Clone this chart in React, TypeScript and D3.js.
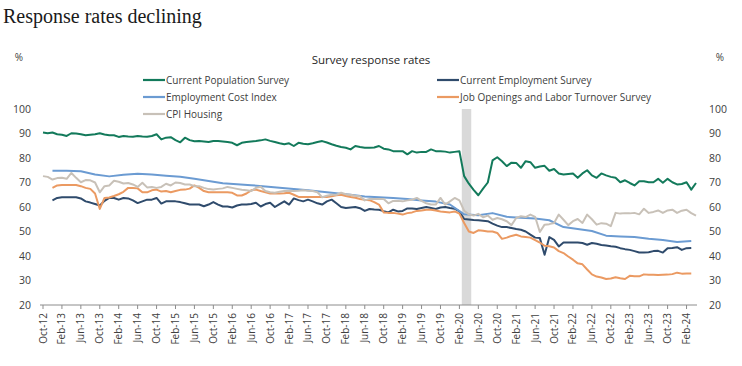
import React from "react";
import * as d3 from "d3";

const W = 742;
const H = 366;

// monthly categories, Oct-12 .. Apr-24
const fmtMonth = d3.timeFormat("%b-%y");
const months = d3
  .timeMonth.range(new Date(2012, 9, 1), new Date(2024, 4, 1))
  .map(fmtMonth);

const tickLabels = [
  "Oct-12", "Feb-13", "Jun-13", "Oct-13", "Feb-14", "Jun-14", "Oct-14", "Feb-15", "Jun-15",
  "Oct-15", "Feb-16", "Jun-16", "Oct-16", "Feb-17", "Jun-17", "Oct-17", "Feb-18", "Jun-18",
  "Oct-18", "Feb-19", "Jun-19", "Oct-19", "Feb-20", "Jun-20", "Oct-20", "Feb-21", "Jun-21",
  "Oct-21", "Feb-22", "Jun-22", "Oct-22", "Feb-23", "Jun-23", "Oct-23", "Feb-24",
];
const yTicks = [20, 30, 40, 50, 60, 70, 80, 90, 100];
const recession = ["Mar-20", "Apr-20"];

// Current Population Survey, monthly from Oct-12
const cps = [
  90.4, 90.1, 90.4, 89.7, 89.5, 89.0, 90.1, 90.0, 89.7, 89.3, 89.5, 89.7,
  90.1, 89.6, 89.3, 89.3, 88.6, 89.0, 88.8, 88.7, 89.0, 88.8, 88.7, 89.0,
  89.7, 87.6, 88.3, 88.5, 87.3, 86.4, 88.3, 87.3, 86.8, 86.9, 86.7, 86.5,
  86.9, 86.9, 86.7, 86.5, 86.2, 85.2, 86.2, 86.5, 86.7, 86.9, 87.2, 87.6,
  87.0, 86.5, 86.0, 85.6, 86.0, 84.9, 86.2, 85.8, 85.6, 86.0, 86.5, 86.9,
  86.3, 85.6, 85.0, 84.5, 84.2, 83.5, 84.9, 84.5, 84.2, 84.2, 84.3, 84.9,
  83.8, 83.5, 82.8, 82.8, 82.8, 81.5, 82.8, 82.2, 82.5, 82.5, 83.5, 82.8,
  82.8, 82.6, 82.2, 82.5, 82.8, 72.6, 69.5, 67.0, 64.8, 67.5, 70.0, 79.0,
  80.3, 78.7, 76.7, 78.1, 78.0, 76.0, 78.7, 78.3, 76.0, 76.5, 76.8, 74.8,
  75.5, 73.7, 73.3, 73.5, 73.7, 71.9, 73.7, 75.0, 72.9, 71.9, 73.7, 72.9,
  72.3, 71.9, 70.1, 70.9, 69.8, 68.8, 70.5, 70.5, 70.1, 70.1, 71.5, 69.9,
  71.5, 70.1, 69.2, 69.4, 70.1, 67.1, 69.8,
];

// Current Employment Survey, monthly from Dec-12
const ces = [
  62.7, 63.7, 64.0, 64.0, 64.0, 64.0, 63.5, 62.3, 61.8, 61.2,
  60.6, 62.5, 63.7, 63.7, 63.0, 63.7, 63.5, 62.7, 61.6, 62.3, 63.0, 63.0,
  63.7, 61.4, 62.3, 62.3, 62.3, 62.0, 61.5, 61.0, 61.0, 61.0, 60.3, 61.0,
  62.0, 61.0, 60.2, 60.2, 59.8, 60.6, 61.0, 61.0, 61.2, 61.7, 60.2, 61.2,
  61.7, 60.0, 61.2, 62.3, 61.0, 63.5, 62.8, 62.3, 63.0, 62.3, 61.5, 61.0,
  62.3, 63.0, 61.5, 60.0, 59.6, 59.8, 60.0, 59.5, 58.4, 59.2, 59.0, 58.9,
  58.3, 57.8, 58.9, 58.2, 58.4, 59.4, 59.4, 59.2, 59.6, 60.0, 59.6, 59.2,
  59.8, 60.0, 59.6, 59.3, 58.2, 55.1, 54.9, 54.7, 54.6, 54.4, 54.2, 53.2,
  52.4, 51.8, 51.8, 51.4, 51.0, 50.7, 50.0, 48.7, 47.5, 47.3, 40.5, 47.7,
  46.6, 43.9, 45.5, 45.5, 45.5, 45.5, 45.3, 44.6, 45.3, 45.0, 44.5, 44.3,
  44.0, 43.8, 43.2, 42.8, 42.5, 42.0, 41.4, 41.4, 41.5, 42.0, 42.1, 41.4,
  43.2, 43.3, 43.6, 42.5, 43.2, 43.3,
];

// Employment Cost Index, quarterly from Dec-12
const eci = [
  74.8, 74.8, 74.6, 73.3, 72.5, 73.2, 73.6, 73.3, 72.8, 72.3,
  71.5, 70.6, 69.7, 69.3, 68.9, 68.4, 67.9, 67.3, 66.8, 66.2,
  65.6, 65.0, 64.3, 64.0, 63.7, 63.3, 62.7, 62.2, 61.0, 57.0,
  56.6, 57.5, 56.0, 55.6, 55.3, 54.6, 51.8, 51.0, 50.2, 48.3,
  48.0, 47.8, 47.0, 46.5, 45.7, 46.1,
];

// Job Openings and Labor Turnover Survey, monthly from Dec-12
const jolts = [
  67.8, 68.8, 69.0, 69.0, 69.0, 69.0, 68.5, 67.8, 67.4, 65.5,
  59.2, 63.7, 63.9, 64.5, 65.2, 66.2, 67.8, 67.8, 67.6, 66.0, 66.0, 66.8,
  67.1, 66.3, 66.5, 66.0, 66.5, 67.0, 67.1, 67.5, 68.8, 67.8, 66.5, 66.0,
  66.0, 66.0, 66.0, 66.0, 65.8, 64.7, 64.7, 65.5, 66.8, 67.1, 66.5, 66.0,
  65.5, 65.5, 65.5, 65.6, 65.8, 65.0, 64.1, 64.1, 64.1, 64.1, 64.1, 64.1,
  64.1, 64.4, 64.8, 65.0, 64.5, 64.1, 63.8, 63.3, 63.0, 62.8, 62.0, 61.0,
  57.8, 57.6, 57.6, 57.3, 56.9, 57.5, 57.8, 58.4, 58.6, 58.9, 58.9, 58.6,
  58.2, 58.0, 57.8, 58.2, 57.3, 53.5, 50.0, 49.4, 50.5, 50.3, 50.0, 50.0,
  49.4, 47.0, 47.5, 48.2, 48.7, 48.0, 47.8, 47.5, 46.5, 45.5, 44.2, 44.0,
  43.5, 42.0, 41.2, 39.8, 38.5, 37.0, 36.6, 34.5, 32.5, 31.6, 31.2, 30.6,
  30.8, 31.3, 30.9, 30.6, 31.9, 31.7, 31.7, 32.5, 32.3, 32.3, 32.2, 32.3,
  32.4, 32.6, 33.2, 32.8, 32.9, 32.9,
];

// CPI Housing, monthly from Oct-12
const cpiHousing = [
  72.6, 72.3, 71.2, 71.8, 71.9, 71.5, 73.9, 71.9, 70.1, 71.0, 70.9, 70.0,
  66.0, 68.5, 68.8, 70.7, 70.3, 69.6, 69.8, 69.2, 68.2, 69.9, 68.0, 68.2,
  67.8, 68.2, 69.5, 68.8, 70.0, 69.8, 69.2, 69.2, 68.5, 68.5, 67.8, 67.3,
  67.1, 67.4, 67.6, 68.2, 67.8, 67.4, 67.0, 66.8, 66.5, 67.8, 68.3, 66.5,
  66.0, 65.8, 66.2, 66.5, 66.5, 66.5, 66.6, 66.8, 66.6, 66.5, 66.0, 64.0,
  64.6, 65.0, 65.0, 65.8, 65.2, 65.0, 64.6, 64.4, 62.7, 63.3, 63.3, 63.3,
  63.3, 61.5, 62.5, 62.5, 62.3, 62.7, 63.0, 63.7, 62.5, 61.5, 61.0, 61.0,
  63.7, 61.0, 62.3, 63.7, 62.7, 58.5, 57.0, 56.5, 57.2, 55.8, 56.5, 54.8,
  55.5, 55.0, 54.2, 52.6, 55.5, 56.2, 55.9, 56.9, 56.0, 49.8, 52.8, 53.0,
  53.5, 56.9, 54.8, 52.6, 54.2, 55.1, 53.5, 56.9, 55.0, 52.8, 53.4, 53.2,
  52.2, 57.6, 57.3, 57.5, 57.4, 57.6, 57.0, 59.3, 57.6, 58.0, 58.6, 57.6,
  58.6, 58.9, 57.6, 58.5, 58.9, 57.5, 56.5,
];

const series = [
  { name: "Current Population Survey", values: cps, start: "Oct-12", step: 1, color: "#137a5b" },
  { name: "Current Employment Survey", values: ces, start: "Dec-12", step: 1, color: "#2f4b6c" },
  { name: "Employment Cost Index", values: eci, start: "Dec-12", step: 3, color: "#6b9bd2" },
  { name: "Job Openings and Labor Turnover Survey", values: jolts, start: "Dec-12", step: 1, color: "#eb9a62" },
  { name: "CPI Housing", values: cpiHousing, start: "Oct-12", step: 1, color: "#c8c1b8" },
];

const font = "'Open Sans', 'Noto Sans', sans-serif";

export default function App() {
  const x = d3.scalePoint<string>().domain(months).range([43, 696]);
  const y = d3.scaleLinear().domain([20, 100]).range([305, 109]);
  const step = x.step();

  const line = d3
    .line<{ m: string; v: number }>()
    .x((d) => x(d.m) as number)
    .y((d) => y(d.v));

  const toPoints = (s: typeof series[number]) => {
    const i0 = months.indexOf(s.start);
    return s.values.map((v, i) => ({ m: months[i0 + i * s.step], v }));
  };

  const recX0 = (x(recession[0]) as number) - step / 2;
  const recX1 = (x(recession[1]) as number) + step / 2;

  const legendPos = [
    [143, 80],
    [437, 80],
    [143, 97],
    [437, 97],
    [143, 114],
  ];

  return (
    <svg
      width={W}
      height={H}
      style={{ position: "absolute", left: 0, top: 0, background: "#fff" }}
    >
      <text x={3} y={23} fontFamily="'Liberation Serif', serif" fontSize={20} fill="#1a1a1a">
        Response rates declining
      </text>

      <text x={371} y={64} textAnchor="middle" fontFamily={font} fontSize={11.5} fill="#262626">
        Survey response rates
      </text>

      <text x={19} y={61} textAnchor="middle" fontFamily={font} fontSize={10} fill="#404040">%</text>
      <text x={720} y={61} textAnchor="middle" fontFamily={font} fontSize={10} fill="#404040">%</text>

      {/* legend */}
      {series.map((s, i) => (
        <g key={s.name} transform={`translate(${legendPos[i][0]},${legendPos[i][1]})`}>
          <line x1={0} x2={22} y1={0} y2={0} stroke={s.color} strokeWidth={2.2} />
          <text x={23} y={3.8} fontFamily={font} fontSize={10} fill="#404040">
            {s.name}
          </text>
        </g>
      ))}

      {/* recession shading */}
      <rect x={recX0} y={y(100)} width={recX1 - recX0} height={y(20) - y(100)} fill="#d9d9d9" />

      {/* y tick labels, both sides */}
      {yTicks.map((t) => (
        <g key={t}>
          <text x={31} y={y(t) + 3.8} textAnchor="end" fontFamily={font} fontSize={10.5} fill="#404040">
            {t}
          </text>
          <text x={709} y={y(t) + 3.8} textAnchor="start" fontFamily={font} fontSize={10.5} fill="#404040">
            {t}
          </text>
        </g>
      ))}

      {/* x axis */}
      <line x1={40} x2={697} y1={y(20)} y2={y(20)} stroke="#8c8c8c" strokeWidth={1} />
      {tickLabels.map((t) => {
        const tx = x(t) as number;
        return (
          <g key={t}>
            <line x1={tx} x2={tx} y1={y(20)} y2={y(20) + 4} stroke="#8c8c8c" strokeWidth={1} />
            <text
              transform={`translate(${tx + 3.5},${y(20) + 8}) rotate(-90)`}
              textAnchor="end"
              fontFamily={font}
              fontSize={10}
              fill="#404040"
            >
              {t}
            </text>
          </g>
        );
      })}

      {/* series lines */}
      {series.map((s) => (
        <path
          key={s.name}
          d={line(toPoints(s)) || ""}
          fill="none"
          stroke={s.color}
          strokeWidth={2}
          strokeLinejoin="round"
        />
      ))}
    </svg>
  );
}
